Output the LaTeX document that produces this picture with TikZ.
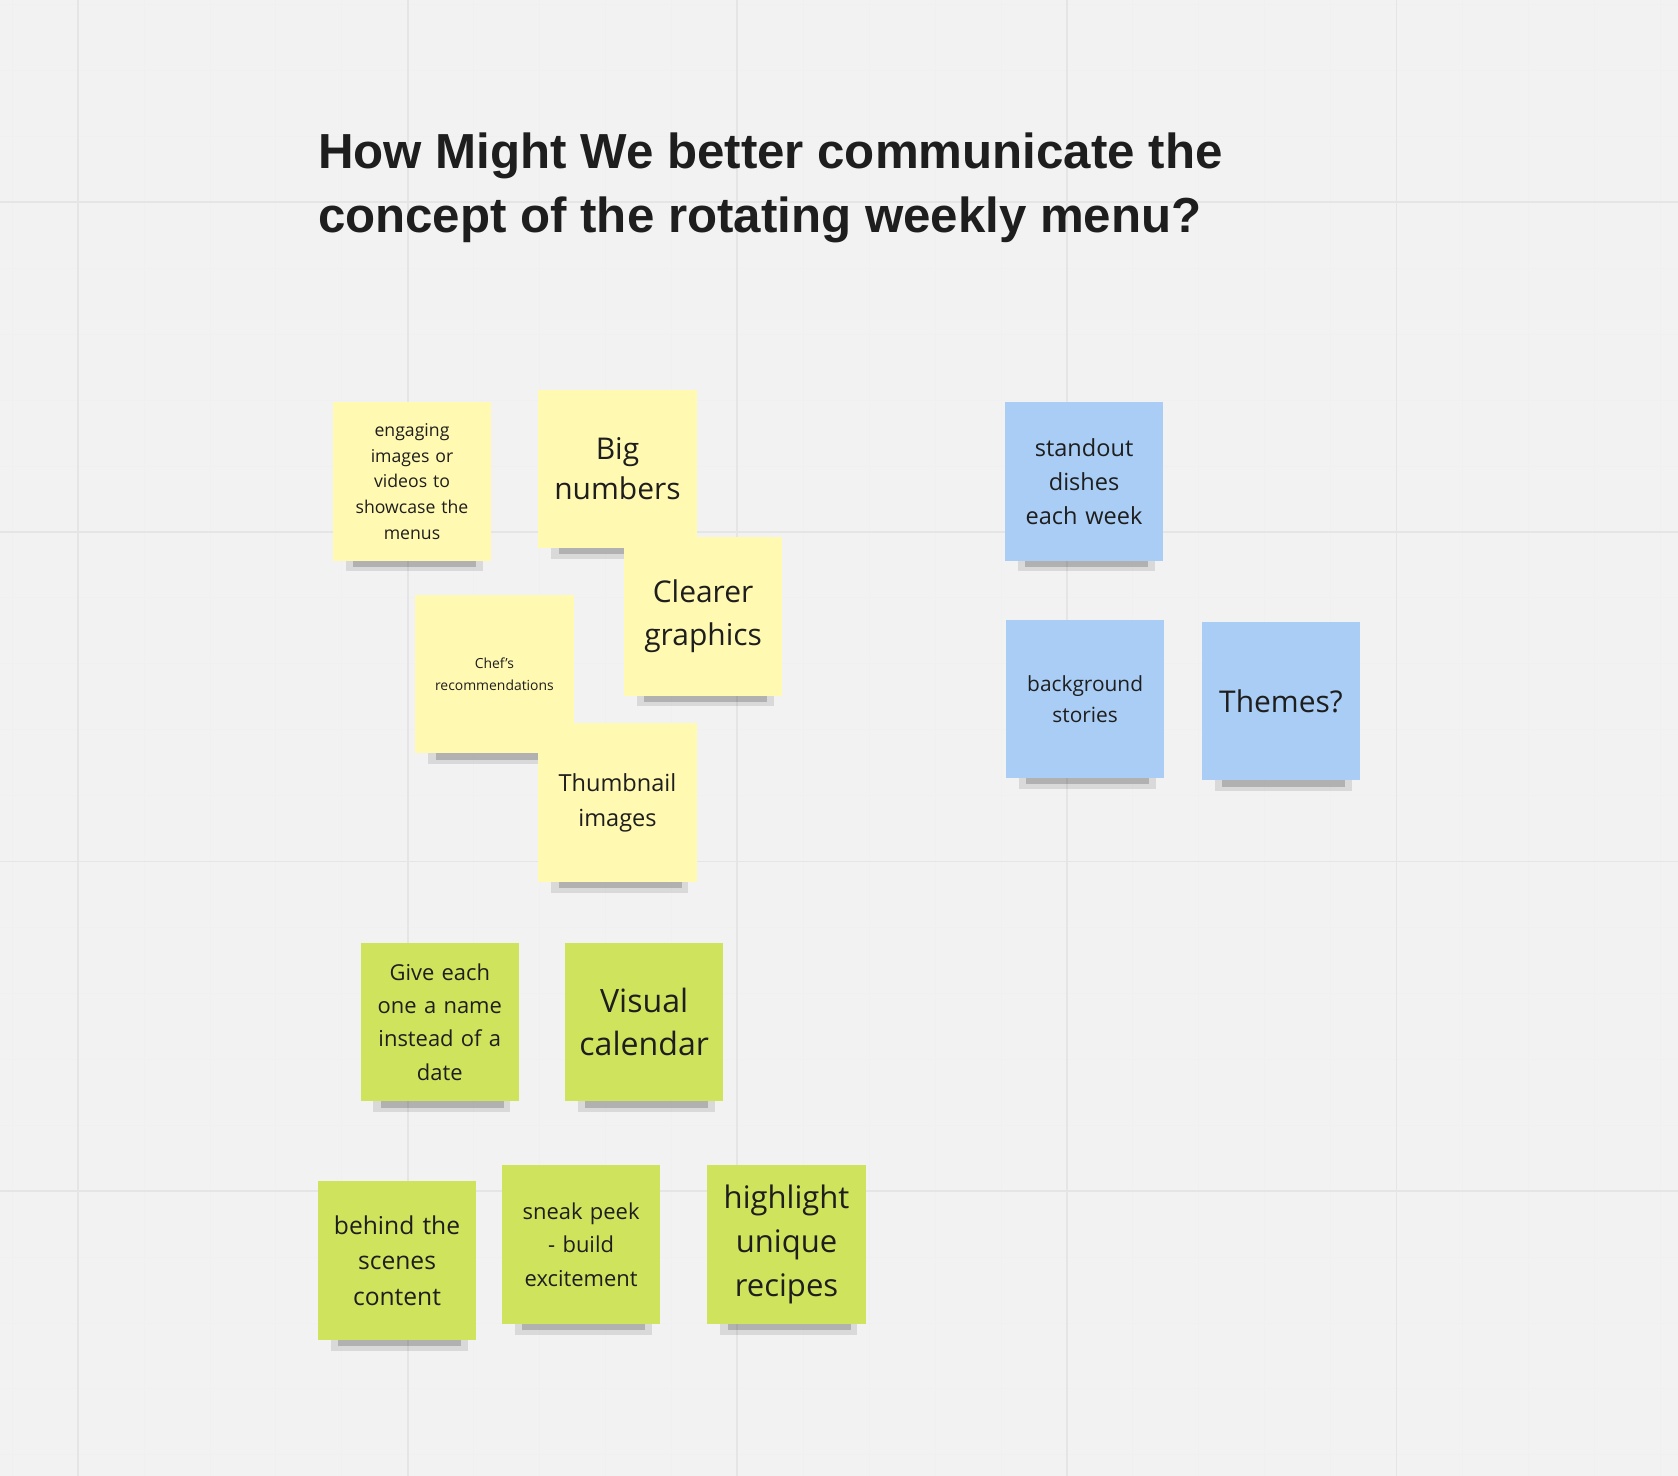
\documentclass[tikz,border=0pt]{standalone}
\usepackage{fontspec}
\setmainfont{Open Sans}
\newfontfamily\titlefont{Liberation Sans}
\definecolor{bg}{HTML}{F2F2F2}
\definecolor{ny}{HTML}{FFF9B1}
\definecolor{nb}{HTML}{A9CDF5}
\definecolor{ng}{HTML}{D0E35C}
\definecolor{txt}{HTML}{1E1E1E}
\tikzset{
  note/.style={minimum width=148pt,minimum height=148pt,inner sep=4pt,align=center,text=txt,text width=136pt},
  shad/.style={fill=black,opacity=0.18},
}
\newcommand{\mynote}[7]{%
  \fill[shad] (#2-55,#3+72) rectangle (#2+60,#3+80);
  \fill[black,opacity=0.1] (#2-62,#3+70) rectangle (#2+66,#3+84);
  \node[note,fill=#4,font=\fontsize{#5}{#6}\selectfont] (#1) at (#2,#3) {#7};}
\begin{document}
\begin{tikzpicture}[x=1pt,y=-1pt]
\fill[bg] (0,0) rectangle (1568,1379);
\useasboundingbox (0,0) rectangle (1568,1379);
\foreach \i in {-1,...,25} {\draw[black!6,line width=0.8pt] (73+61.6*\i,0) -- (73+61.6*\i,1379);}
\foreach \i in {-3,...,22} {\draw[black!6,line width=0.8pt] (0,189+61.6*\i) -- (1568,189+61.6*\i);}
\foreach \i in {0,...,4} {\draw[black!10,line width=1.6pt] (73+308*\i,0) -- (73+308*\i,1379);}
\foreach \i in {0,...,3} {\draw[black!10,line width=1.6pt] (0,189+308*\i) -- (1568,189+308*\i);}
\node[anchor=north west,align=left,inner sep=0pt,text=txt,font=\titlefont\bfseries\fontsize{46}{60}\selectfont] (title) at (297,124) {How Might We better communicate the\\concept of the rotating weekly menu?};
\mynote{n1}{385}{450}{ny}{16.5}{24}{engaging\\images or\\videos to\\showcase the\\menus}
\mynote{n2}{577}{438}{ny}{28}{38}{Big\\numbers}
\mynote{n4}{462}{630}{ny}{13}{20}{Chef's\\recommendations}
\mynote{n3}{657}{576}{ny}{28}{40}{Clearer\\graphics}
\mynote{n5}{577}{750}{ny}{22}{33}{Thumbnail\\images}
\mynote{n6}{1013}{450}{nb}{22}{32}{standout\\dishes\\each week}
\mynote{n7}{1014}{653}{nb}{19.5}{29}{background\\stories}
\mynote{n8}{1197}{655}{nb}{28}{38}{Themes?}
\mynote{n9}{411}{955}{ng}{20.5}{31}{Give each\\one a name\\instead of a\\date}
\mynote{n10}{602}{955}{ng}{30}{41}{Visual\\calendar}
\mynote{n11}{371}{1178}{ng}{23}{33}{behind the\\scenes\\content}
\mynote{n12}{543}{1163}{ng}{20.5}{31}{sneak peek\\- build\\excitement}
\mynote{n13}{735}{1163}{ng}{29}{41}{highlight\\unique\\recipes}
\end{tikzpicture}
\end{document}
